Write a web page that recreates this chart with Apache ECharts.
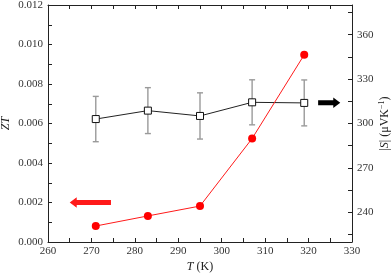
<!DOCTYPE html>
<html><head><meta charset="utf-8">
<script src="https://cdn.jsdelivr.net/npm/echarts@6/dist/echarts.min.js"></script>
<style>html,body{margin:0;padding:0;background:#fff}#c{width:392px;height:273px}</style>
</head><body><div id="c"></div>
<script>
var temps = [271, 283, 295, 307, 319];
var zt = [0.00081, 0.00132, 0.00182, 0.00524, 0.00948];
var seebeck = [303.0, 308.7, 305.1, 314.3, 313.9];
var seebeckErr = [15.3, 15.5, 15.6, 15.2, 15.5];
var xTicks = [260,265,270,275,280,285,290,295,300,305,310,315,320,325,330];
var leftTicks = [0,0.001,0.002,0.003,0.004,0.005,0.006,0.007,0.008,0.009,0.010,0.011,0.012];
var rightTicks = [225,240,255,270,285,300,315,330,345,360,375];
var rightLabels = [240,270,300,330,360];
var redArrow = [[274.5, 0.002],[265, 0.002]];   // tail -> tip
var blackArrow = [[322.2, 314],[327.3, 314]];   // tail -> tip

var FONT = 'Liberation Serif';
var chart = echarts.init(document.getElementById('c'), null, {renderer:'canvas'});

function arrowRender(pts, color){
  return function(params, api){
    var a = api.coord(pts[0]), b = api.coord(pts[1]);
    var dir = b[0] > a[0] ? 1 : -1;
    var hl = 7, sh = 2.6, hh = 5.2;
    var neck = b[0] - dir*hl;
    var y = a[1];
    return {type:'polygon', shape:{points:[
      [a[0], y-sh],[neck, y-sh],[neck, y-hh],[b[0], y],[neck, y+hh],[neck, y+sh],[a[0], y+sh]
    ]}, style:{fill:color}};
  };
}

var errData = temps.map(function(t,i){return [t, seebeck[i]-seebeckErr[i], seebeck[i]+seebeckErr[i]];});

chart.setOption({
  animation:false,
  textStyle:{fontFamily:FONT},
  grid:{left:48, right:40, top:5, bottom:31, containLabel:false, outerBoundsMode:'none'},
  xAxis:[{
    type:'value', min:260, max:330, interval:10, position:'bottom',
    name:'{i|T} (K)', nameLocation:'middle', nameGap:19, nameMoveOverlap:false,
    nameTextStyle:{fontFamily:FONT, fontSize:12, color:'#222', rich:{i:{fontStyle:'italic', fontFamily:FONT, fontSize:12, color:'#222'}}},
    axisLine:{show:true, lineStyle:{color:'#222', width:1}},
    axisTick:{show:true, inside:true, length:4, customValues:xTicks, lineStyle:{color:'#222'}},
    axisLabel:{fontFamily:FONT, fontSize:11, color:'#333', margin:4},
    splitLine:{show:false}
  },{
    type:'value', min:260, max:330, interval:10, position:'top',
    axisLine:{show:true, lineStyle:{color:'#222', width:1}},
    axisTick:{show:true, inside:true, length:4, customValues:xTicks, lineStyle:{color:'#222'}},
    axisLabel:{show:false}, splitLine:{show:false}
  }],
  yAxis:[{
    type:'value', min:0, max:0.012, interval:0.002, position:'left',
    name:'ZT', nameLocation:'middle', nameGap:36, nameRotate:90, nameMoveOverlap:false,
    nameTextStyle:{fontFamily:FONT, fontSize:12, fontStyle:'italic', color:'#222'},
    axisLine:{show:true, lineStyle:{color:'#222', width:1}},
    axisTick:{show:true, inside:true, length:4, customValues:leftTicks, lineStyle:{color:'#222'}},
    axisLabel:{fontFamily:FONT, fontSize:11, color:'#333', margin:5, formatter:function(v){return v.toFixed(3);}},
    splitLine:{show:false}
  },{
    type:'value', min:220, max:380, position:'right',
    name:'|{i|S}| (μVK{s|−1})', nameLocation:'middle', nameGap:26, nameRotate:90, nameMoveOverlap:false,
    nameTextStyle:{fontFamily:FONT, fontSize:12, color:'#222', rich:{i:{fontStyle:'italic', fontFamily:FONT, fontSize:12, color:'#222'}, s:{fontFamily:FONT, fontSize:8, color:'#222', verticalAlign:'top', padding:[0,0,6,0]}}},
    axisLine:{show:true, lineStyle:{color:'#222', width:1}},
    axisTick:{show:true, inside:true, length:4, customValues:rightTicks, lineStyle:{color:'#222'}},
    axisLabel:{fontFamily:FONT, fontSize:11, color:'#333', margin:5, customValues:rightLabels},
    splitLine:{show:false}
  }],
  series:[
    {
      type:'custom', xAxisIndex:0, yAxisIndex:1, data:errData, z:2,
      renderItem:function(params, api){
        var lo = api.coord([api.value(0), api.value(1)]);
        var hi = api.coord([api.value(0), api.value(2)]);
        var w = 3;
        var st = {stroke:'#9a9a9a', lineWidth:1.4};
        return {type:'group', children:[
          {type:'line', shape:{x1:lo[0], y1:lo[1], x2:hi[0], y2:hi[1]}, style:st},
          {type:'line', shape:{x1:lo[0]-w, y1:lo[1], x2:lo[0]+w, y2:lo[1]}, style:st},
          {type:'line', shape:{x1:hi[0]-w, y1:hi[1], x2:hi[0]+w, y2:hi[1]}, style:st}
        ]};
      }
    },
    {
      type:'line', xAxisIndex:0, yAxisIndex:1, z:3,
      data:temps.map(function(t,i){return [t, seebeck[i]];}),
      symbol:'rect', symbolSize:7, showAllSymbol:true,
      lineStyle:{color:'#222', width:1},
      itemStyle:{color:'#fff', borderColor:'#111', borderWidth:1}
    },
    {
      type:'line', xAxisIndex:0, yAxisIndex:0, z:4,
      data:temps.map(function(t,i){return [t, zt[i]];}),
      symbol:'circle', symbolSize:8,
      lineStyle:{color:'#ff1a1a', width:1},
      itemStyle:{color:'#ff0000', borderWidth:0}
    },
    {
      type:'custom', xAxisIndex:0, yAxisIndex:0, z:5, data:[0],
      renderItem:arrowRender(redArrow, '#ff1a1a')
    },
    {
      type:'custom', xAxisIndex:0, yAxisIndex:1, z:5, data:[0],
      renderItem:arrowRender(blackArrow, '#000')
    }
  ]
});
</script>
</body></html>
